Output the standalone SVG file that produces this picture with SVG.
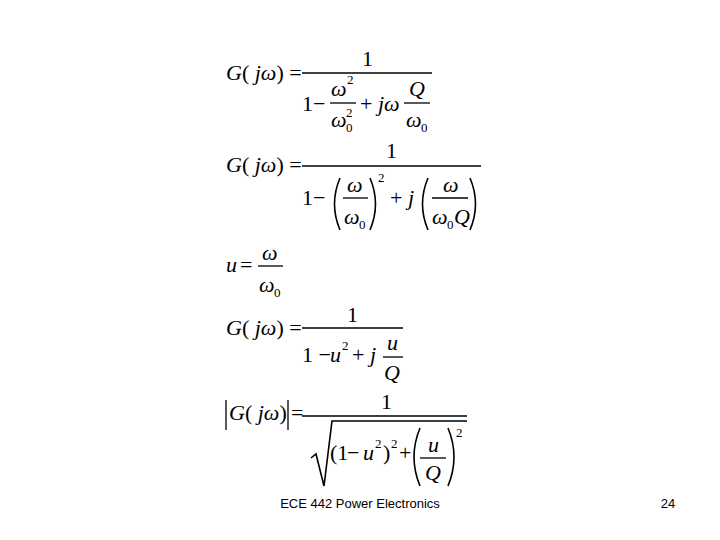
<svg xmlns="http://www.w3.org/2000/svg" width="720" height="540" viewBox="0 0 720 540">
<style>
text{font-family:"Liberation Serif","Times New Roman",serif;font-size:22px;fill:#000}
.i{font-style:italic}
.s{font-size:13px}
.f{font-family:"Liberation Sans",Arial,sans-serif;font-size:13px}
.bar{stroke:#000;stroke-width:1.3}
.p{fill:none;stroke:#000;stroke-width:1.6}
</style>
<rect width="720" height="540" fill="#fff"/>
<g id="eq1">
<text x="226" y="80"><tspan class="i">G</tspan>( <tspan class="i">jω</tspan>) =</text>
<line class="bar" x1="302" y1="73" x2="432" y2="73"/>
<text x="362" y="66">1</text>
<text x="302" y="111">1−</text>
<line class="bar" x1="330" y1="103" x2="356" y2="103"/>
<text class="i" x="331" y="96">ω</text><text class="s" x="347" y="84">2</text>
<text class="i" x="331" y="127">ω</text><text class="s" x="346" y="132">0</text><text class="s" x="346" y="117">2</text>
<text x="360" y="111">+ <tspan class="i">jω</tspan></text>
<line class="bar" x1="404" y1="103" x2="430" y2="103"/>
<text class="i" x="409" y="96">Q</text>
<text class="i" x="406" y="127">ω</text><text class="s" x="421" y="132">0</text>
</g>
<g id="eq2">
<text x="226" y="172"><tspan class="i">G</tspan>( <tspan class="i">jω</tspan>) =</text>
<line class="bar" x1="302" y1="166" x2="481" y2="166"/>
<text x="386" y="158">1</text>
<text x="302" y="205">1−</text>
<path class="p" d="M340,178 Q329,204 340,230"/>
<line class="bar" x1="343" y1="198" x2="368" y2="198"/>
<text class="i" x="347" y="192">ω</text>
<text class="i" x="344" y="224">ω</text><text class="s" x="359" y="229">0</text>
<path class="p" d="M370,178 Q381,204 370,230"/>
<text class="s" x="378" y="182">2</text>
<text x="390" y="205">+ <tspan class="i">j</tspan></text>
<path class="p" d="M428,178 Q417,204 428,230"/>
<line class="bar" x1="432" y1="198" x2="468" y2="198"/>
<text class="i" x="443" y="192">ω</text>
<text class="i" x="432" y="224">ω</text><text class="s" x="447" y="229">0</text><text class="i" x="454" y="224">Q</text>
<path class="p" d="M470,178 Q481,204 470,230"/>
</g>
<g id="eq3">
<text class="i" x="226" y="272">u</text><text x="240" y="272">=</text>
<line class="bar" x1="258" y1="266" x2="283" y2="266"/>
<text class="i" x="262" y="260">ω</text>
<text class="i" x="259" y="292">ω</text><text class="s" x="274" y="297">0</text>
</g>
<g id="eq4">
<text x="226" y="335"><tspan class="i">G</tspan>( <tspan class="i">jω</tspan>) =</text>
<line class="bar" x1="302" y1="328" x2="403" y2="328"/>
<text x="347" y="322">1</text>
<text x="302" y="362">1 −</text><text class="i" x="330" y="362">u</text><text class="s" x="342" y="350">2</text>
<text x="352" y="362">+ <tspan class="i">j</tspan></text>
<line class="bar" x1="383" y1="357" x2="403" y2="357"/>
<text class="i" x="387" y="350">u</text>
<text class="i" x="384" y="380">Q</text>
</g>
<g id="eq5">
<line class="bar" x1="226" y1="400" x2="226" y2="430"/>
<text x="229" y="420"><tspan class="i">G</tspan>( <tspan class="i">jω</tspan>)</text>
<line class="bar" x1="288" y1="400" x2="288" y2="430"/>
<text x="291" y="420">=</text>
<line class="bar" x1="302" y1="416" x2="467" y2="416"/>
<text x="381" y="409">1</text>
<path class="p" d="M311,458 L316,454 L324,486 L332,421 L467,421"/>
<text x="330" y="460">(1</text>
<text x="347" y="460">−</text>
<text class="i" x="363" y="460">u</text><text class="s" x="375" y="448">2</text>
<text x="383" y="460">)</text><text class="s" x="391" y="448">2</text>
<text x="399" y="460">+</text>
<path class="p" d="M420,428 Q408,457 420,486"/>
<line class="bar" x1="420" y1="458" x2="446" y2="458"/>
<text class="i" x="428" y="452">u</text>
<text class="i" x="425" y="480">Q</text>
<path class="p" d="M448,428 Q460,457 448,486"/>
<text class="s" x="456" y="437">2</text>
</g>
<text class="f" x="360" y="508" text-anchor="middle">ECE 442 Power Electronics</text>
<text class="f" x="668" y="508" text-anchor="middle">24</text>
</svg>
